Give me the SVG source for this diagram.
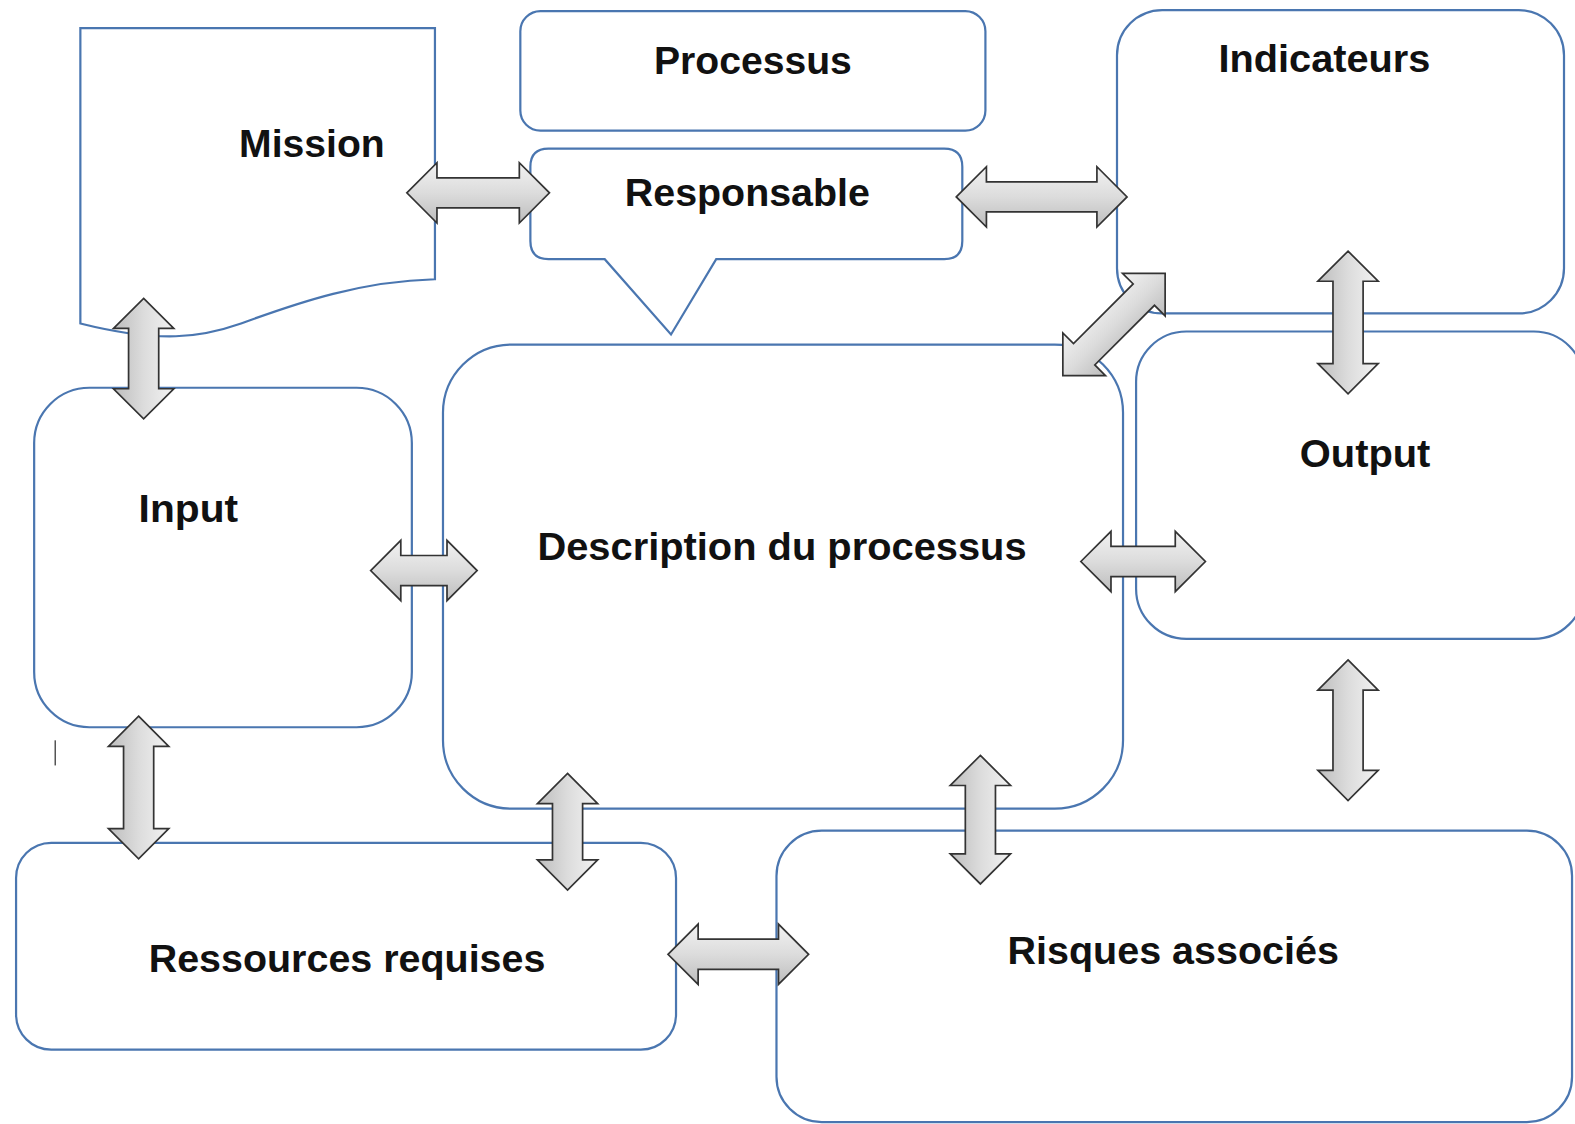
<svg xmlns="http://www.w3.org/2000/svg" width="1575" height="1124" viewBox="0 0 1575 1124">
<defs>
<style>
.box{fill:#fff;stroke:#4a76b0;stroke-width:2.2}
.lbl{font-family:"Liberation Sans",Arial,sans-serif;font-weight:bold;font-size:38px;fill:#111;text-anchor:middle}
.arr{fill:url(#ag);stroke:#333;stroke-width:1.7;stroke-linejoin:miter}
</style>
<linearGradient id="ag" x1="0" y1="0" x2="0" y2="1">
<stop offset="0" stop-color="#f2f2f2"/>
<stop offset="0.5" stop-color="#dcdcdc"/>
<stop offset="1" stop-color="#bdbdbd"/>
</linearGradient>
</defs>
<rect width="1575" height="1124" fill="#fff"/>
<g transform="scale(1.0045)">
<g id="mission">
<path class="box" d="M80,28 H433 V278 C360,280 300,300 240,322 C200,336 160,342 80,322 Z"/>
<text class="lbl" x="310.5" y="156" textLength="145" lengthAdjust="spacingAndGlyphs">Mission</text>
</g>
<g id="processus">
<rect class="box" x="518" y="11" width="463" height="119" rx="20"/>
<text class="lbl" x="749.5" y="74" textLength="197" lengthAdjust="spacingAndGlyphs">Processus</text>
</g>
<g id="responsable">
<path class="box" d="M546,148 H940 Q958,148 958,166 V240 Q958,258 940,258 H713 L668,333 L602,258 H546 Q528,258 528,240 V166 Q528,148 546,148 Z"/>
<text class="lbl" x="744" y="205" textLength="244" lengthAdjust="spacingAndGlyphs">Responsable</text>
</g>
<g id="indicateurs">
<rect class="box" x="1112" y="10" width="445" height="302" rx="45"/>
<text class="lbl" x="1318.5" y="72" textLength="211" lengthAdjust="spacingAndGlyphs">Indicateurs</text>
</g>
<g id="output">
<rect class="box" x="1131" y="330" width="446" height="306" rx="50"/>
<text class="lbl" x="1359" y="465" textLength="130" lengthAdjust="spacingAndGlyphs">Output</text>
</g>
<g id="description">
<rect class="box" x="441" y="343" width="677" height="462" rx="68"/>
<text class="lbl" x="778.5" y="557" textLength="487" lengthAdjust="spacingAndGlyphs">Description du processus</text>
</g>
<g id="input">
<rect class="box" x="34" y="386" width="376" height="338" rx="55"/>
<text class="lbl" x="187.5" y="520" textLength="99" lengthAdjust="spacingAndGlyphs">Input</text>
</g>
<g id="ressources">
<rect class="box" x="16" y="839" width="657" height="206" rx="35"/>
<text class="lbl" x="345.5" y="968" textLength="395" lengthAdjust="spacingAndGlyphs">Ressources requises</text>
</g>
<g id="risques">
<rect class="box" x="773" y="827" width="792" height="290" rx="45"/>
<text class="lbl" x="1168" y="960" textLength="330" lengthAdjust="spacingAndGlyphs">Risques associés</text>
</g>
<line x1="55" y1="737" x2="55" y2="762" stroke="#555" stroke-width="1.5"/>
<g id="connectors">
<path class="arr" transform="translate(476,192)" d="M-71,0 L-41,-30 L-41,-15 L41,-15 L41,-30 L71,0 L41,30 L41,15 L-41,15 L-41,30 Z"/>
<path class="arr" transform="translate(1037,196)" d="M-85,0 L-55,-30 L-55,-15 L55,-15 L55,-30 L85,0 L55,30 L55,15 L-55,15 L-55,30 Z"/>
<path class="arr" transform="translate(1109,323) rotate(-45)" d="M-72,0 L-42,-30 L-42,-15 L42,-15 L42,-30 L72,0 L42,30 L42,15 L-42,15 L-42,30 Z"/>
<path class="arr" transform="translate(1342,321) rotate(90)" d="M-71,0 L-41,-30 L-41,-15 L41,-15 L41,-30 L71,0 L41,30 L41,15 L-41,15 L-41,30 Z"/>
<path class="arr" transform="translate(143,357) rotate(90)" d="M-60,0 L-30,-30 L-30,-15 L30,-15 L30,-30 L60,0 L30,30 L30,15 L-30,15 L-30,30 Z"/>
<path class="arr" transform="translate(422,568)" d="M-53,0 L-23,-30 L-23,-15 L23,-15 L23,-30 L53,0 L23,30 L23,15 L-23,15 L-23,30 Z"/>
<path class="arr" transform="translate(1138,559)" d="M-62,0 L-32,-30 L-32,-15 L32,-15 L32,-30 L62,0 L32,30 L32,15 L-32,15 L-32,30 Z"/>
<path class="arr" transform="translate(1342,727) rotate(90)" d="M-70,0 L-40,-30 L-40,-15 L40,-15 L40,-30 L70,0 L40,30 L40,15 L-40,15 L-40,30 Z"/>
<path class="arr" transform="translate(138,784) rotate(90)" d="M-71,0 L-41,-30 L-41,-15 L41,-15 L41,-30 L71,0 L41,30 L41,15 L-41,15 L-41,30 Z"/>
<path class="arr" transform="translate(565,828) rotate(90)" d="M-58,0 L-28,-30 L-28,-15 L28,-15 L28,-30 L58,0 L28,30 L28,15 L-28,15 L-28,30 Z"/>
<path class="arr" transform="translate(976,816) rotate(90)" d="M-64,0 L-34,-30 L-34,-15 L34,-15 L34,-30 L64,0 L34,30 L34,15 L-34,15 L-34,30 Z"/>
<path class="arr" transform="translate(735,950)" d="M-70,0 L-40,-30 L-40,-15 L40,-15 L40,-30 L70,0 L40,30 L40,15 L-40,15 L-40,30 Z"/>
</g>
</g>
</svg>
